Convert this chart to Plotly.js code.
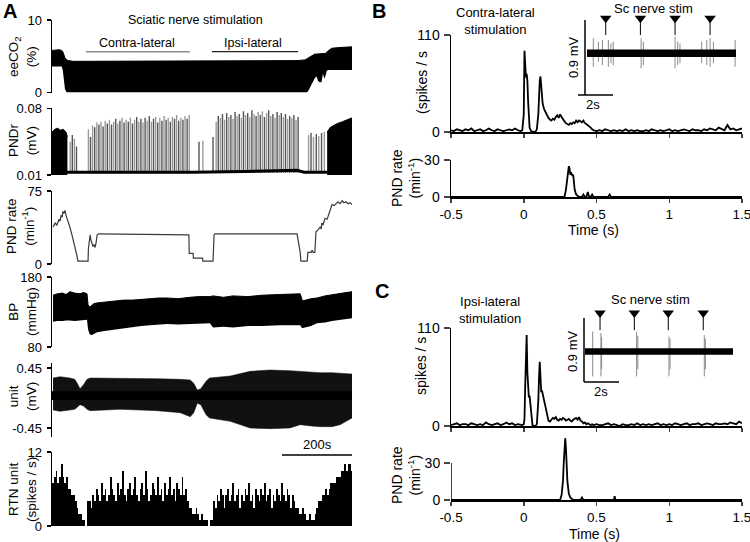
<!DOCTYPE html>
<html><head><meta charset="utf-8">
<script src="https://cdn.plot.ly/plotly-3.0.1.min.js"></script>
<style>html,body{margin:0;padding:0;background:#fff}#chart{width:750px;height:542px}</style>
</head><body><div id="chart"></div>
<script>
// ---------------- Panel A data (time in s) ----------------
const coT  = [0,10,20,28,31,34,37,42,47,60,150,300,450,600,700,723,728,733,740,746,751,756,760,765,770,774,778,782,785,790,799,820,857];
const coHi = [5.8,5.9,5.9,5.8,5.6,5.2,4.8,4.5,4.4,4.3,4.3,4.3,4.3,4.4,4.4,4.5,4.6,4.8,5.0,5.2,5.3,5.3,5.3,5.4,5.4,5.4,5.3,5.4,5.6,5.8,6.1,6.2,6.3];
const coLo = [3.6,3.6,3.6,3.6,3.0,1.5,0.5,0,0,0,0,0,0,0,0,0,0,0.3,1.0,1.7,2.0,2.2,1.6,1.4,1.4,2.6,1.9,2.4,3.0,3.1,3.1,3.1,3.1];

const pndBaseT = [0,400,550,650,700,720,857];
const pndBaseV = [0.013,0.013,0.0138,0.0148,0.015,0.013,0.013];
const pndStartT = [0,8,16,24,32,40,44];
const pndStartH = [0.055,0.058,0.059,0.057,0.058,0.055,0.050];
const pndEndT = [786,795,805,815,830,845,857];
const pndEndH = [0.055,0.060,0.062,0.064,0.066,0.068,0.070];
const pndSpikeT = [52,58,64,70,
 104,110,116,122,128,134,140,146,152,158,164,170,176,182,188,194,200,206,212,218,224,230,236,242,248,254,260,266,272,278,284,290,296,302,308,314,320,326,332,338,344,350,356,362,368,374,380,386,392,
 420,431,460,
 469,475,481,487,493,499,505,511,517,523,529,535,541,547,553,559,565,571,577,583,589,595,601,607,613,619,625,631,637,643,649,655,661,667,673,679,685,691,697,703,
 733,740,747,755,762,770,778];
const pndSpikeH = [0.045,0.052,0.048,0.040,
 0.058,0.050,0.062,0.060,0.065,0.063,0.066,0.061,0.067,0.064,0.068,0.063,0.066,0.069,0.064,0.067,0.070,0.065,0.068,0.066,0.070,0.064,0.068,0.071,0.066,0.069,0.065,0.070,0.067,0.072,0.066,0.069,0.071,0.065,0.070,0.067,0.072,0.068,0.070,0.066,0.071,0.069,0.073,0.067,0.070,0.068,0.072,0.069,0.073,
 0.045,0.046,0.050,
 0.066,0.072,0.070,0.074,0.068,0.075,0.071,0.073,0.069,0.076,0.072,0.074,0.070,0.077,0.073,0.075,0.071,0.078,0.074,0.072,0.076,0.073,0.077,0.071,0.075,0.078,0.072,0.074,0.070,0.076,0.073,0.075,0.071,0.074,0.069,0.072,0.070,0.073,0.068,0.071,
 0.052,0.054,0.050,0.053,0.051,0.054,0.055];
const pndFloor = 0.012;

const prT = [3,9,14,20,23,26,29,31,34,37,40,43,51,57,66,71,74,103,104,109,111,114,117,120,123,126,129,134,391,392,403,404,430,431,460,463,466,700,703,709,711,729,731,740,743,746,751,754,760,766,769,771,774,780,786,791,794,800,806,811,817,823,829,834,840,846,851,857];
const prV = [38,42,40,46,44,50,48,54,52,55,50,47,38,30,18,9,3,3,16,30,25,22,18,20,17,22,30,31,30,11,11,6,6,3,3,30,31,31,25,12,3,3,12,12,14,12,12,33,35,38,36,42,40,47,46,52,55,61,60,62,64,62,65,63,64,62,63,61];

const bpT  = [3,15,30,40,51,65,80,90,100,103,108,114,120,129,150,180,205,231,255,280,305,329,360,394,420,451,460,490,517,560,600,650,709,714,717,740,757,780,800,830,857];
const bpHi = [154,156,157,155,159,157,156,158,156,140,137,140,142,143,144,145,147,147,148,149,150,150,149,151,152,152,153,151,153,152,154,155,156,148,146,149,150,153,155,157,159];
const bpLo = [116,117,117,118,118,117,118,119,119,105,98,97,99,101,103,105,107,109,110,111,112,113,112,113,114,114,108,109,108,110,110,111,111,107,107,110,114,115,117,119,121];

const uT  = [3,23,51,65,72,80,90,100,109,150,194,250,300,366,395,405,415,425,440,450,509,566,623,680,709,740,766,800,823,857];
const uHi = [0.30,0.32,0.30,0.28,0.22,0.14,0.20,0.28,0.30,0.30,0.30,0.30,0.29,0.28,0.27,0.22,0.12,0.14,0.25,0.30,0.33,0.40,0.42,0.41,0.40,0.39,0.38,0.38,0.37,0.36];
const uLo = [-0.18,-0.20,-0.18,-0.17,-0.14,-0.10,-0.12,-0.17,-0.19,-0.18,-0.17,-0.18,-0.19,-0.22,-0.28,-0.22,-0.08,-0.10,-0.25,-0.30,-0.35,-0.45,-0.46,-0.45,-0.40,-0.42,-0.43,-0.43,-0.40,-0.30];
const uBandT  = [0,857];
const uBandHi = [0.10,0.10];
const uBandLo = [-0.03,-0.03];

// RTN unit histogram: 5 s bins starting at t = 0
const rtnBinWidth = 5;
const rtnV = [7,8,9,7,8,10,8,7,8,6,
 6,5,5,4,3,2,2,1,1,0,
 4,4,3,5,4,6,5,4,7,5, 6,4,5,8,6,5,4,7,5,6, 9,5,4,6,7,5,6,8,5,4, 6,7,5,9,6,4,5,7,6,5, 8,5,6,4,7,5,6,8,5,6, 4,7,6,5,8,5,6,4,3,
 3,2,2,3,2,1,2,1,1,1,0,1,1,
 4,3,5,4,6,5,3,5,6,4, 5,7,4,5,6,3,5,4,6,5, 7,4,5,3,6,5,4,6,5,7, 4,5,6,3,5,4,6,5,4,7, 5,4,6,5,3,5,4,3,
 3,2,2,3,2,1,1,2,1,1,2,3,
 4,4,5,5,6,5,6,7,7,7,8,8,8,9,9,10,9,10,10,9];

const stimContra = [97,394];
const stimIpsi = [457,703];
const scaleBarA = [657,857];

// ---------------- Panel B / C data ----------------
const tBins = [-0.50,-0.48,-0.46,-0.44,-0.42,-0.40,-0.38,-0.36,-0.34,-0.32,-0.30,-0.28,-0.26,-0.24,-0.22,-0.20,-0.18,-0.16,-0.14,-0.12,-0.10,-0.08,-0.06,-0.04,-0.02,-0.01,0.00,0.005,0.01,0.015,0.02,0.025,0.03,0.035,0.04,0.05,0.06,0.07,0.08,0.09,0.10,0.105,0.11,0.115,0.12,0.125,0.13,0.14,0.15,0.16,0.17,0.18,0.19,0.20,0.21,0.22,0.23,0.24,0.25,0.26,0.27,0.28,0.29,0.30,0.31,0.32,0.33,0.34,0.35,0.36,0.37,0.38,0.39,0.40,0.41,0.42,0.43,0.44,0.45,0.46,0.47,0.48,0.50,0.52,0.54,0.56,0.58,0.60,0.62,0.64,0.66,0.68,0.70,0.72,0.74,0.76,0.78,0.80,0.82,0.84,0.86,0.88,0.90,0.92,0.94,0.96,0.98,1.00,1.02,1.04,1.06,1.08,1.10,1.12,1.14,1.16,1.18,1.20,1.22,1.24,1.26,1.28,1.30,1.32,1.34,1.36,1.38,1.40,1.42,1.44,1.46,1.48,1.50];
const bRate = [2,1,3,2,1,3,2,4,1,2,3,1,2,4,2,1,3,2,1,2,3,2,4,2,1,
 2,20,92,75,62,66,58,35,15,5,1,0,0,0,3,20,45,58,63,55,42,32,26,22,19,16,14,13,15,14,17,19,16,20,17,14,12,10,9,8,10,9,11,10,13,11,13,12,11,13,10,9,8,6,5,3,2,
 1,2,1,3,2,1,2,1,2,1,3,1,2,1,2,1,1,2,1,3,2,1,2,1,2,3,1,2,1,2,3,2,1,3,2,2,1,3,2,4,3,2,5,3,2,8,3,4,2,3,4];
const cRate = [1,2,3,1,2,2,1,3,2,1,2,1,4,2,1,2,3,1,2,4,2,3,1,2,1,
 1,2,8,45,85,102,60,35,32,34,12,1,0,0,2,28,55,72,55,38,40,36,30,18,10,6,5,7,9,8,10,7,6,8,7,9,8,6,7,8,6,5,7,8,9,7,10,6,5,3,4,2,3,2,1,2,1,
 2,1,1,2,3,1,2,1,0,2,1,1,2,1,3,1,2,1,2,1,2,3,1,2,1,2,1,3,2,1,2,3,1,2,2,3,1,2,3,2,1,3,2,2,3,2,4,3,2,5,3];

const bPndT = [-0.5,0.28,0.29,0.30,0.305,0.31,0.315,0.32,0.325,0.33,0.335,0.34,0.345,0.35,0.36,0.37,0.38,0.40,0.41,0.42,0.43,0.44,0.45,0.46,0.47,0.48,0.58,0.59,0.60,1.5];
const bPndV = [0,0,6,18,22,25,23,18,20,19,17,18,12,6,2,1,0,0,2,0,0,4,0,0,2,0,0,2,0,0];
const cPndT = [-0.5,0.25,0.26,0.27,0.275,0.28,0.285,0.29,0.295,0.30,0.31,0.32,0.33,0.34,0.39,0.40,0.41,0.62,0.625,0.63,1.5];
const cPndV = [0,0,4,16,30,44,50,42,28,15,5,2,1,0,0,2,0,0,3,0,0];

// insets (time s, mV)
const inBandT = [0,8.51];
const inBandHi = [0.045,0.045];
const inBandLo = [-0.045,-0.045];
const bStim = [1.07,3.05,5.03,7.03];
const bSpT  = [0.36,0.65,0.88,1.22,1.37,1.50,3.09,3.22,5.03,5.18,5.31,6.55,6.84,7.03,7.22,8.46];
const bSpHi = [0.18,0.14,0.16,0.16,0.12,0.14,0.18,0.14,0.20,0.14,0.12,0.14,0.16,0.18,0.14,0.16];
const bSpLo = [-0.16,-0.10,-0.14,-0.16,-0.12,-0.14,-0.18,-0.14,-0.18,-0.14,-0.12,-0.12,-0.14,-0.16,-0.12,-0.16];
const cBandT = [0,8.46];
const cStim = [0.86,2.82,4.76,6.76];
const cSpT  = [0.44,0.91,0.95,2.95,3.02,4.80,4.86,6.82,6.88];
const cSpHi = [0.28,0.26,0.20,0.28,0.22,0.21,0.18,0.23,0.18];
const cSpLo = [-0.35,-0.35,-0.25,-0.35,-0.25,-0.35,-0.25,-0.35,-0.25];

// ---------------- helpers ----------------
const F = 'Liberation Sans, Arial, sans-serif';
const W = 750, H = 542;
const PX = p => p / W;
const PY = p => 1 - p / H;
function segs(xs, lo, hi) {
  const x = [], y = [];
  xs.forEach((t, i) => { x.push(t, t, null); y.push(Array.isArray(lo) ? lo[i] : lo, Array.isArray(hi) ? hi[i] : hi, null); });
  return {x, y};
}
function pick(arr, parity) { return arr.filter((_, i) => i % 2 === parity); }

const traces = [];
function add(t) { t.hoverinfo = 'skip'; t.showlegend = false; traces.push(t); }

// eeCO2
add({x: coT, y: coLo, xaxis: 'x', yaxis: 'y', mode: 'lines', line: {width: 0, color: '#000'}});
add({x: coT, y: coHi, xaxis: 'x', yaxis: 'y', mode: 'lines', fill: 'tonexty', fillcolor: '#000', line: {width: 1, color: '#000'}});
// PNDr
[0, 1].forEach(par => {
  const s = segs(pick(pndSpikeT, par), pndFloor, pick(pndSpikeH, par));
  add({x: s.x, y: s.y, xaxis: 'x2', yaxis: 'y2', mode: 'lines', line: {width: 1.4, color: par ? '#555' : '#999'}});
});
add({x: pndStartT, y: pndStartH, xaxis: 'x2', yaxis: 'y2', mode: 'lines', fill: 'tozeroy', fillcolor: '#000', line: {width: 1, color: '#000'}});
add({x: pndEndT, y: pndEndH, xaxis: 'x2', yaxis: 'y2', mode: 'lines', fill: 'tozeroy', fillcolor: '#000', line: {width: 1, color: '#000'}});
add({x: pndBaseT, y: pndBaseV, xaxis: 'x2', yaxis: 'y2', mode: 'lines', line: {width: 3, color: '#000'}});
// PND rate
add({x: prT, y: prV, xaxis: 'x3', yaxis: 'y3', mode: 'lines', line: {width: 1.2, color: '#3a3a3a'}});
// BP
add({x: bpT, y: bpLo, xaxis: 'x4', yaxis: 'y4', mode: 'lines', line: {width: 0, color: '#000'}});
add({x: bpT, y: bpHi, xaxis: 'x4', yaxis: 'y4', mode: 'lines', fill: 'tonexty', fillcolor: '#000', line: {width: 1, color: '#000'}});
// unit
add({x: uT, y: uLo, xaxis: 'x5', yaxis: 'y5', mode: 'lines', line: {width: 0.5, color: '#111'}});
add({x: uT, y: uHi, xaxis: 'x5', yaxis: 'y5', mode: 'lines', fill: 'tonexty', fillcolor: '#111', line: {width: 0.5, color: '#111'}});
add({x: uBandT, y: uBandLo, xaxis: 'x5', yaxis: 'y5', mode: 'lines', line: {width: 0, color: '#000'}});
add({x: uBandT, y: uBandHi, xaxis: 'x5', yaxis: 'y5', mode: 'lines', fill: 'tonexty', fillcolor: '#000', line: {width: 0, color: '#000'}});
// RTN histogram (bins laid out by the library from x0/dx)
add({type: 'bar', y: rtnV, x0: rtnBinWidth / 2, dx: rtnBinWidth, width: rtnBinWidth, xaxis: 'x6', yaxis: 'y6', marker: {color: '#000', line: {width: 0}}});

// B
add({x: tBins, y: bRate, xaxis: 'x7', yaxis: 'y7', mode: 'lines', line: {width: 1.8, color: '#000'}});
add({x: bPndT, y: bPndV, xaxis: 'x8', yaxis: 'y8', mode: 'lines', line: {width: 1.8, color: '#000'}});
{
  const s = segs(bSpT, bSpLo, bSpHi);
  add({x: s.x, y: s.y, xaxis: 'x9', yaxis: 'y9', mode: 'lines', line: {width: 1, color: '#8a8a8a'}});
  add({x: inBandT, y: inBandLo, xaxis: 'x9', yaxis: 'y9', mode: 'lines', line: {width: 0, color: '#000'}});
  add({x: inBandT, y: inBandHi, xaxis: 'x9', yaxis: 'y9', mode: 'lines', fill: 'tonexty', fillcolor: '#000', line: {width: 0, color: '#000'}});
  const a = segs(bStim, 0.22, 0.40);
  add({x: a.x, y: a.y, xaxis: 'x9', yaxis: 'y9', mode: 'lines', line: {width: 1, color: '#000'}});
  add({x: bStim, y: bStim.map(() => 0.42), xaxis: 'x9', yaxis: 'y9', mode: 'markers', cliponaxis: false, marker: {symbol: 'triangle-down', size: 10, color: '#000'}});
}
// C
add({x: tBins, y: cRate, xaxis: 'x10', yaxis: 'y10', mode: 'lines', line: {width: 1.8, color: '#000'}});
add({x: cPndT, y: cPndV, xaxis: 'x11', yaxis: 'y11', mode: 'lines', line: {width: 1.8, color: '#000'}});
{
  const s = segs(cSpT, cSpLo, cSpHi);
  add({x: s.x, y: s.y, xaxis: 'x12', yaxis: 'y12', mode: 'lines', line: {width: 1, color: '#8a8a8a'}});
  add({x: cBandT, y: inBandLo, xaxis: 'x12', yaxis: 'y12', mode: 'lines', line: {width: 0, color: '#000'}});
  add({x: cBandT, y: inBandHi, xaxis: 'x12', yaxis: 'y12', mode: 'lines', fill: 'tonexty', fillcolor: '#000', line: {width: 0, color: '#000'}});
  const a = segs(cStim, 0.30, 0.49);
  add({x: a.x, y: a.y, xaxis: 'x12', yaxis: 'y12', mode: 'lines', line: {width: 1, color: '#000'}});
  add({x: cStim, y: cStim.map(() => 0.54), xaxis: 'x12', yaxis: 'y12', mode: 'markers', cliponaxis: false, marker: {symbol: 'triangle-down', size: 10, color: '#000'}});
}

// ---------------- layout ----------------
const layout = {
  width: W, height: H, margin: {l: 0, r: 0, t: 0, b: 0},
  paper_bgcolor: '#fff', plot_bgcolor: 'rgba(0,0,0,0)', showlegend: false,
  font: {family: F, color: '#000', size: 13}, bargap: 0,
  annotations: [], shapes: []
};
function yax(top, bot, range, tv, extra) {
  return Object.assign({domain: [PY(bot), PY(top)], range: range, showline: true, linecolor: '#000', linewidth: 1.5,
    ticks: 'outside', ticklen: 4, tickwidth: 1.5, tickcolor: '#000', tickmode: 'array', tickvals: tv, ticktext: tv.map(String),
    showgrid: false, zeroline: false, tickfont: {size: 13, family: F}, ticklabelstandoff: 2, fixedrange: true}, extra || {});
}
// unlabeled middle tick drawn by an overlaying axis that has no labels
let extraAxis = 13;
function midTick(baseY, baseX, range, val, len) {
  layout['yaxis' + extraAxis] = {overlaying: baseY, anchor: baseX, side: 'left', range: range, showline: false,
    ticks: 'outside', ticklen: len, tickwidth: 1.5, tickcolor: '#000', tickmode: 'array', tickvals: [val],
    showticklabels: false, showgrid: false, zeroline: false, fixedrange: true};
  extraAxis++;
}
const xA = n => ({domain: [PX(52), PX(352)], range: [0, 857], visible: false, anchor: 'y' + (n === 1 ? '' : n), fixedrange: true});
layout.xaxis = xA(1); layout.xaxis2 = xA(2); layout.xaxis3 = xA(3); layout.xaxis4 = xA(4); layout.xaxis5 = xA(5); layout.xaxis6 = xA(6);
layout.yaxis  = yax(20, 92.5, [0, 10], [0, 10], {anchor: 'x'});
layout.yaxis2 = yax(108.3, 175, [0.01, 0.08], [0.01, 0.08], {anchor: 'x2', ticktext: ['0.01', '0.08']});
layout.yaxis3 = yax(191, 264, [0, 75], [0, 75], {anchor: 'x3'});
layout.yaxis4 = yax(277, 347, [80, 180], [80, 180], {anchor: 'x4'});
layout.yaxis5 = yax(363, 437, [-0.585, 0.525], [-0.45, 0.45], {anchor: 'x5', ticktext: ['-0.45', '0.45']});
layout.yaxis6 = yax(452, 526, [0, 12], [0, 12], {anchor: 'x6'});
midTick('y', 'x', [0, 10], 5, 4);
midTick('y2', 'x2', [0.01, 0.08], 0.045, 4);
midTick('y3', 'x3', [0, 75], 50, 4);
midTick('y4', 'x4', [80, 180], 130, 4);
midTick('y5', 'x5', [-0.585, 0.525], 0, 4);
midTick('y6', 'x6', [0, 12], 6, 4);

const xB = (anchor, labels) => ({domain: [PX(451), PX(742)], range: [-0.5, 1.5], showline: true, linecolor: '#000', linewidth: 1.5,
  ticks: 'outside', ticklen: 4, tickwidth: 1.5, tickmode: 'array', tickvals: [-0.5, 0, 0.5, 1, 1.5], ticktext: ['-0.5', '0', '0.5', '1', '1.5'],
  showticklabels: labels, ticklabeloverflow: 'allow', tickfont: {size: 13.5, family: F}, ticklabelstandoff: 0,
  showgrid: false, zeroline: false, anchor: anchor, fixedrange: true});
const yB = (top, bot, range, tv, anchor, line) => ({domain: [PY(bot), PY(top)], range: range, showline: line, linecolor: '#000', linewidth: 1.5,
    ticks: 'outside', ticklen: 6, tickwidth: 1.5, tickmode: 'array', tickvals: tv, ticktext: tv.map(String), tickfont: {size: 14, family: F}, ticklabelstandoff: 1,
    showgrid: false, zeroline: false, anchor: anchor, fixedrange: true});
layout.xaxis7 = xB('y7', false);
layout.yaxis7 = yB(35, 132, [0, 110], [0, 110], 'x7', true);
layout.xaxis8 = xB('y8', true);
layout.yaxis8 = yB(160, 197, [0, 30], [0, 30], 'x8', true);
layout.xaxis9 = {domain: [PX(587), PX(736)], range: [0, 8.51], visible: false, anchor: 'y9', fixedrange: true};
layout.yaxis9 = {domain: [PY(100), PY(8)], range: [-0.56, 0.544], visible: false, anchor: 'x9', fixedrange: true};
layout.xaxis10 = xB('y10', false);
layout.yaxis10 = yB(328, 426, [0, 110], [0, 110], 'x10', true);
layout.xaxis11 = xB('y11', true);
layout.yaxis11 = yB(432, 500, [0, 55], [0, 30], 'x11', false);
layout.xaxis12 = {domain: [PX(585), PX(733)], range: [0, 8.46], visible: false, anchor: 'y12', fixedrange: true};
layout.yaxis12 = {domain: [PY(385), PY(300)], range: [-0.471, 0.724], visible: false, anchor: 'x12', fixedrange: true};
midTick('y7', 'x7', [0, 110], 55, 6);
midTick('y10', 'x10', [0, 110], 55, 6);

// shapes
const L = (x0, y0, x1, y1, color, w, xref, yref) => ({type: 'line', x0, y0, x1, y1, xref: xref || 'paper', yref: yref || 'paper', line: {color: color || '#000', width: w || 1.5}});
layout.shapes.push(L(stimContra[0], PY(51.7), stimContra[1], PY(51.7), '#8c8c8c', 1.6, 'x', 'paper'));
layout.shapes.push(L(stimIpsi[0], PY(51.7), stimIpsi[1], PY(51.7), '#222', 1.3, 'x', 'paper'));
layout.shapes.push(L(scaleBarA[0], PY(455), scaleBarA[1], PY(455), '#000', 1.6, 'x6', 'paper'));
layout.shapes.push(L(-0.5, 0, -0.5, 30, '#000', 1.5, 'x11', 'y11'));
layout.shapes.push(L(PX(585), PY(20), PX(585), PY(95)));
layout.shapes.push(L(PX(578), PY(95), PX(613), PY(95)));
layout.shapes.push(L(PX(584), PY(318), PX(584), PY(382)));
layout.shapes.push(L(PX(584), PY(382), PX(619), PY(382)));

// annotations
const A = (text, x, y, size, extra) => Object.assign({text, x: PX(x), y: PY(y), xref: 'paper', yref: 'paper', showarrow: false,
  xanchor: 'center', yanchor: 'middle', font: {size: size, family: F, color: '#000'}}, extra || {});
const R = {textangle: -90};
layout.annotations.push(
  A('<b>A</b>', 10, 11, 20), A('<b>B</b>', 379, 11, 20), A('<b>C</b>', 382, 291, 20),
  A('Sciatic nerve stimulation', 196, 20, 12.5),
  A('Contra-lateral', 137, 43, 12.5), A('Ipsi-lateral', 253, 43, 12.5),
  A('200s', 317, 444, 13),
  A('eeCO<sub>2</sub><br>(%)', 22, 57, 13.5, R),
  A('PNDr<br>(mV)', 22, 140, 13.5, R),
  A('PND rate<br>(min<sup>-1</sup>)', 20, 226, 13.5, R),
  A('BP<br>(mmHg)', 22, 312, 13.5, R),
  A('unit<br>(mV)', 22, 397, 13.5, R),
  A('RTN unit<br>(spikes / s)', 22, 490, 13.5, R),
  A('Contra-lateral<br>stimulation', 495, 21, 13),
  A('Sc nerve stim', 653, 8, 13),
  A('(spikes / s', 422, 83, 14, R),
  A('PND rate<br>(min<sup>-1</sup>)', 406, 178, 14, R),
  A('Time (s)', 593, 230, 14),
  A('0.9 mV', 573, 57, 13, R),
  A('2s', 593, 104, 13),
  A('Ipsi-lateral<br>stimulation', 490, 310, 13),
  A('Sc nerve stim', 650, 299, 13),
  A('spikes / s', 421, 366, 14, R),
  A('PND rate<br>(min<sup>-1</sup>)', 406, 475, 14, R),
  A('Time (s)', 594, 534, 14),
  A('0.9 mV', 572, 351, 13, R),
  A('2s', 601, 391, 13)
);

Plotly.newPlot('chart', traces, layout, {staticPlot: true, displayModeBar: false});
</script></body></html>
